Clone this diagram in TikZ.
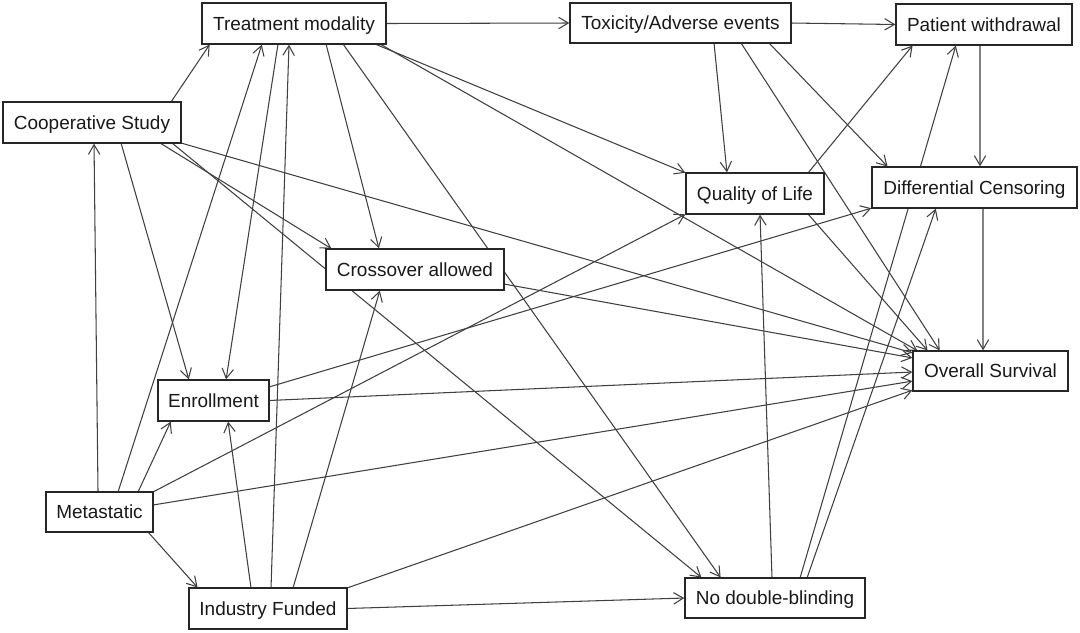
\documentclass[tikz,border=0pt]{standalone}
\usepackage{fontspec}
\setmainfont{Liberation Sans}
\usetikzlibrary{arrows.meta,calc}
\pgfdeclarelayer{edgelayer}
\pgfsetlayers{edgelayer,main}
\begin{document}
\begin{tikzpicture}[x=0.02cm,y=-0.02cm,
  box/.style={draw=black!85,line width=1.1pt,fill=white,inner sep=0pt,outer sep=0pt,
    font=\fontsize{10.8}{13}\selectfont,text=black!90,text height=7.7pt,text depth=0pt},
  edge/.style={draw=black!75,line width=0.6pt,shorten >=0.4pt,
    -{Straight Barb[length=5.5pt,width=6.5pt]}}]
\useasboundingbox (0,0) rectangle (1080,633);

\node[box,minimum width=3.68cm,minimum height=0.82cm] (tm)  at (294,23.5)  {Treatment modality};
\node[box,minimum width=4.42cm,minimum height=0.80cm] (tox) at (680.5,23)  {Toxicity/Adverse events};
\node[box,minimum width=3.52cm,minimum height=0.82cm] (pw)  at (984,24.5)  {Patient withdrawal};
\node[box,minimum width=3.56cm,minimum height=0.82cm] (cs)  at (92,122.5)  {Cooperative Study};
\node[box,minimum width=2.76cm,minimum height=0.82cm] (qol) at (755,193.5) {Quality of Life};
\node[box,minimum width=4.10cm,minimum height=0.82cm] (dc)  at (974.5,187.5) {Differential Censoring};
\node[box,minimum width=3.56cm,minimum height=0.82cm] (co)  at (415,269.5) {Crossover allowed};
\node[box,minimum width=3.10cm,minimum height=0.80cm] (os)  at (990.5,371) {Overall Survival};
\node[box,minimum width=2.22cm,minimum height=0.82cm] (en)  at (213.5,400.5) {Enrollment};
\node[box,minimum width=2.14cm,minimum height=0.80cm] (me)  at (99.5,512)  {Metastatic};
\node[box,minimum width=3.16cm,minimum height=0.82cm] (ind) at (268,608.5) {Industry Funded};
\node[box,minimum width=3.60cm,minimum height=0.80cm] (ndb) at (775,598)   {No double-blinding};

\begin{pgfonlayer}{edgelayer}
\fill[white] (0,0) rectangle (1080,633);
\draw[edge] (tm.east) -- (tox.west);
\draw[edge] (tox.east) -- (pw.west);
\draw[edge] ($(cs.north west)+(168,0)$) -- ($(tm.south west)+(8,0)$);
\draw[edge] ($(me.north west)+(72,0)$) -- ($(tm.south west)+(60,0)$);
\draw[edge] ($(ind.north west)+(82,0)$) -- ($(tm.south west)+(87,0)$);
\draw[edge] ($(tm.south west)+(76,0)$) -- ($(en.north west)+(68,0)$);
\draw[edge] ($(tm.south west)+(124,0)$) -- ($(co.north west)+(53,0)$);
\draw[edge] ($(tm.south west)+(141,0)$) -- ($(ndb.north west)+(36,0)$);
\draw[edge] ($(tm.south west)+(173,0)$) -- (qol.north west);
\draw[edge] ($(tm.south west)+(178,0)$) -- ($(os.north west)+(5,0)$);
\draw[edge] ($(cs.south west)+(157,0)$) -- ($(co.north west)+(6,0)$);
\draw[edge] ($(cs.south west)+(169,0)$) -- ($(ndb.north west)+(17,0)$);
\draw[edge] ($(cs.south west)+(118,0)$) -- ($(en.north west)+(31,0)$);
\draw[edge] (cs.south east) -- ($(os.north west)+(0,2)$);
\draw[edge] ($(me.north west)+(52,0)$) -- ($(cs.south west)+(91,0)$);
\draw[edge] ($(me.north west)+(92,0)$) -- ($(en.south west)+(13,0)$);
\draw[edge] (me.north east) -- (qol.south west);
\draw[edge] ($(me.north east)+(0,13)$) -- ($(os.north west)+(0,30)$);
\draw[edge] ($(me.south east)+(-5,0)$) -- ($(ind.north west)+(9,0)$);
\draw[edge] ($(en.north east)+(0,7)$) -- (dc.south west);
\draw[edge] (en.east) -- ($(os.west)+(0,1)$);
\draw[edge] ($(ind.north west)+(62,0)$) -- ($(en.south west)+(70,0)$);
\draw[edge] ($(ind.north west)+(104,0)$) -- ($(co.south west)+(54,0)$);
\draw[edge] (ind.north east) -- ($(os.south west)+(0,-1)$);
\draw[edge] (ind.east) -- (ndb.west);
\draw[edge] ($(co.south east)+(0,-6)$) -- ($(os.north west)+(0,7)$);
\draw[edge] ($(tox.south west)+(144,0)$) -- ($(qol.north west)+(41,0)$);
\draw[edge] ($(tox.south west)+(171,0)$) -- ($(os.north west)+(27,0)$);
\draw[edge] ($(tox.south west)+(199,0)$) -- ($(dc.north west)+(16,0)$);
\draw[edge] ($(pw.south west)+(84,0)$) -- ($(dc.north west)+(108,0)$);
\draw[edge] ($(dc.south west)+(111,0)$) -- ($(os.north west)+(70,0)$);
\draw[edge] ($(qol.north west)+(122,0)$) -- ($(pw.south west)+(17,0)$);
\draw[edge] ($(qol.south west)+(122,0)$) -- ($(os.north west)+(15,0)$);
\draw[edge] ($(ndb.north west)+(87,0)$) -- ($(qol.south west)+(74,0)$);
\draw[edge] ($(ndb.north west)+(115,0)$) -- ($(pw.south west)+(60,0)$);
\draw[edge] ($(ndb.north west)+(122,0)$) -- ($(dc.south west)+(64,0)$);
\end{pgfonlayer}
\end{tikzpicture}
\end{document}
